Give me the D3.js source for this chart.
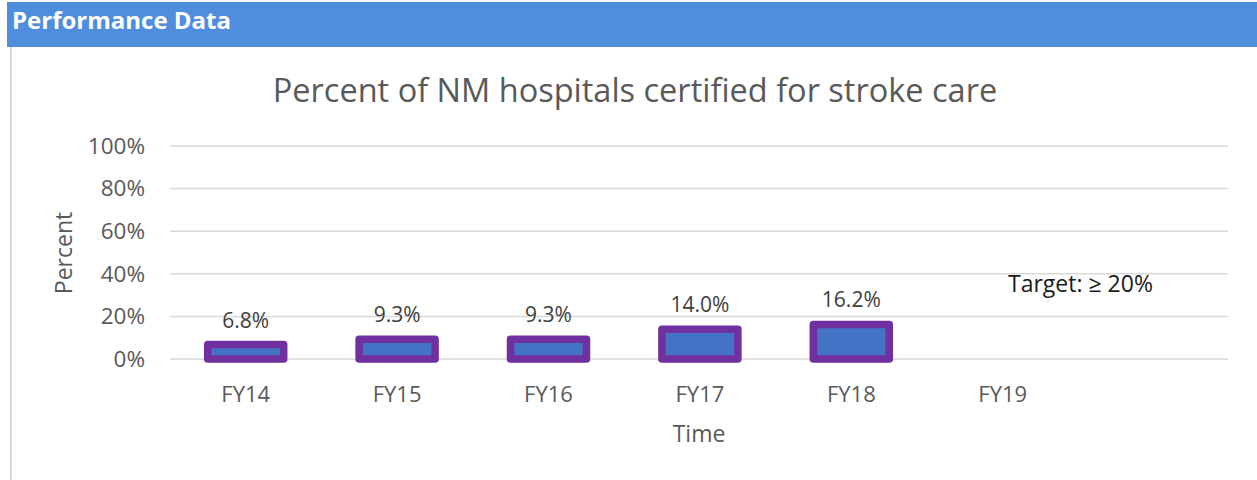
<!DOCTYPE html>
<html><head><meta charset="utf-8">
<script src="https://cdn.jsdelivr.net/npm/d3@7"></script>
<style>body{margin:0;background:#fff;}svg{display:block;}</style>
</head><body>
<svg id="c" width="1257" height="480"></svg>
<script>
const categories = ["FY14","FY15","FY16","FY17","FY18","FY19"];
const values = [6.8, 9.3, 9.3, 14.0, 16.2, null];
const yTicks = [0, 20, 40, 60, 80, 100];
const titleText = "Percent of NM hospitals certified for stroke care";
const headerText = "Performance Data";
const targetText = "Target: \u2265 20%";

const svg = d3.select("#c");
const font = "'Open Sans', sans-serif";

// header band
svg.append("rect").attr("x",7).attr("y",2).attr("width",1250).attr("height",45).attr("fill","#4F8EDC");
svg.append("text").attr("x",12).attr("y",29).attr("fill","#fff").attr("font-family",font)
  .attr("font-weight","bold").attr("font-size",24).text(headerText);
// left border
svg.append("rect").attr("x",10).attr("y",47).attr("width",2).attr("height",433).attr("fill","#d9d9d9");

const x0 = 170, gridRight = 1228, band = 151.4;
const x = d3.scaleBand().domain(categories).range([x0, x0 + band*categories.length]).paddingInner(0).paddingOuter(0);
const y = d3.scaleLinear().domain([0,100]).range([359,146]);

// gridlines
svg.append("g").selectAll("line").data(yTicks).join("line")
  .attr("x1",x0).attr("x2",gridRight).attr("y1",d=>y(d)).attr("y2",d=>y(d))
  .attr("stroke","#d9d9d9").attr("stroke-width",1.5);

// y axis labels
const yAxis = d3.axisLeft(y).tickValues(yTicks).tickFormat(d=>d+"%").tickSize(0).tickPadding(0);
const ya = svg.append("g").attr("transform",`translate(145,0)`).call(yAxis);
ya.select(".domain").remove();
ya.selectAll("text").attr("font-family",font).attr("font-size",22.5).attr("fill","#595959");

// x axis labels
const xAxis = d3.axisBottom(x).tickSize(0).tickPadding(0);
const xa = svg.append("g").attr("transform",`translate(0,380)`).call(xAxis);
xa.select(".domain").remove();
xa.selectAll("text").attr("y",22).attr("dy",0).attr("font-family",font).attr("font-size",22).attr("fill","#595959");

// bars
const bw = 76;
const data = categories.map((c,i)=>({c, v: values[i]})).filter(d=>d.v!=null);
svg.append("g").selectAll("rect").data(data).join("rect")
  .attr("x",d=>x(d.c)+x.bandwidth()/2-bw/2).attr("width",bw)
  .attr("y",d=>y(d.v)).attr("height",d=>y(0)-y(d.v))
  .attr("fill","#4472C4").attr("stroke","#7030A0").attr("stroke-width",7.5)
  .attr("stroke-linejoin","round");

// value labels
svg.append("g").selectAll("text").data(data).join("text")
  .attr("x",d=>x(d.c)+x.bandwidth()/2).attr("y",d=>y(d.v)-17)
  .attr("text-anchor","middle").attr("font-family",font).attr("font-size",21).attr("fill","#404040")
  .text(d=>d.v.toFixed(1)+"%");

// title
svg.append("text").attr("x",635).attr("y",102).attr("text-anchor","middle")
  .attr("font-family",font).attr("font-size",32.5).attr("fill","#595959").text(titleText);

// axis titles
svg.append("text").attr("transform","translate(72,253) rotate(-90)").attr("text-anchor","middle")
  .attr("font-family",font).attr("font-size",23).attr("fill","#595959").text("Percent");
svg.append("text").attr("x",699).attr("y",442).attr("text-anchor","middle")
  .attr("font-family",font).attr("font-size",23).attr("fill","#595959").text("Time");

// target annotation
svg.append("text").attr("x",1008).attr("y",292)
  .attr("font-family",font).attr("font-size",23).attr("fill","#1a1a1a").text(targetText);
</script>
</body></html>
